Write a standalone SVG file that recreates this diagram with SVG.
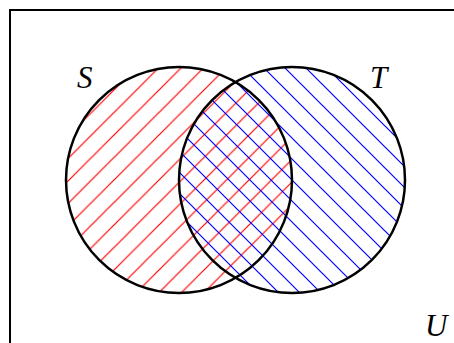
<svg xmlns="http://www.w3.org/2000/svg" width="454" height="343" viewBox="0 0 454 343">
<style>
.lbl{font-family:"Liberation Serif","Times New Roman",serif;font-style:italic;font-size:31px;fill:#000}
.circ{fill:none;stroke:#000;stroke-width:2.5}
</style>
<defs>
<pattern id="red" patternUnits="userSpaceOnUse" x="1.5" y="0" width="22.5" height="22.5">
<path d="M-1,23.5 L23.5,-1 M-1,1 L1,-1 M21.5,23.5 L23.5,21.5" stroke="#ff0000" stroke-width="1.2"/>
</pattern>
<pattern id="blue" patternUnits="userSpaceOnUse" x="7" y="0" width="21" height="21">
<path d="M-1,-1 L22,22 M20,-1 L22,1 M-1,20 L1,22" stroke="#0000ff" stroke-width="1.2"/>
</pattern>
</defs>
<rect id="universe" x="10" y="10" width="460" height="350" fill="none" stroke="#000" stroke-width="2"/>
<g id="S">
<circle cx="179" cy="180" r="113" fill="url(#red)"/>
</g>
<g id="T">
<circle cx="292" cy="180" r="113" fill="url(#blue)"/>
</g>
<g id="outlines">
<circle class="circ" cx="179" cy="180" r="113"/>
<circle class="circ" cx="292" cy="180" r="113"/>
</g>
<text class="lbl" x="77" y="88">S</text>
<text class="lbl" x="370" y="88">T</text>
<text class="lbl" x="425" y="336">U</text>
</svg>
